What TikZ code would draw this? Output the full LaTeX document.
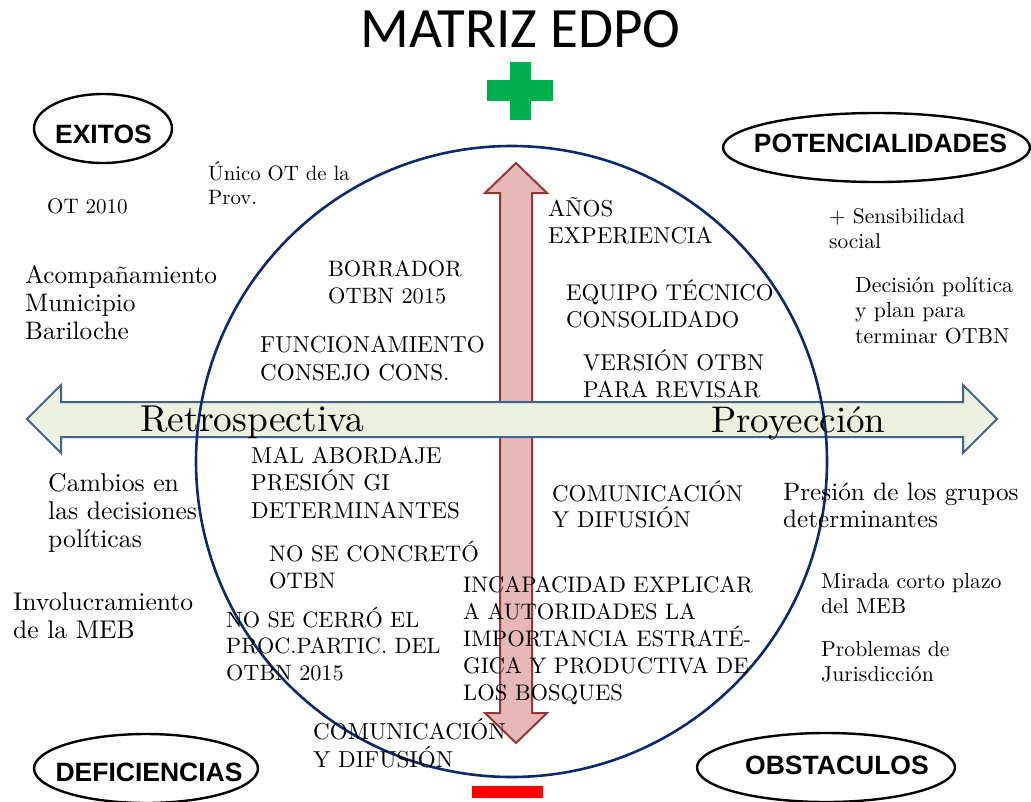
\documentclass[tikz,border=0pt]{standalone}
\usepackage{fontspec}
\setmainfont{lmroman10-regular.otf}
\newfontfamily\titlefont{Carlito}
\newfontfamily\labelfont{Liberation Sans}
\usetikzlibrary{shapes.geometric}
\definecolor{circblue}{HTML}{0B2A6E}
\definecolor{garrowfill}{HTML}{EBF1DE}
\definecolor{garrowdraw}{HTML}{41648F}
\definecolor{rarrowfill}{HTML}{E6B9B8}
\definecolor{rarrowdraw}{HTML}{953735}
\definecolor{plusgreen}{HTML}{00B050}
\definecolor{minusred}{HTML}{FF0000}
\tikzset{
  txt/.style={anchor=base west, align=left, inner sep=0pt, text=black},
  oval/.style={ellipse, draw=black, line width=2.4pt, inner sep=0pt},
  ovaltext/.style={inner sep=0pt, font=\labelfont\bfseries\fontsize{26.5}{30}\selectfont},
}
\begin{document}
\begin{tikzpicture}[x=1pt,y=-1pt]
\useasboundingbox (0,0) rectangle (1031,801);
% vertical red double arrow
\draw[fill=rarrowfill, draw=rarrowdraw, line width=2pt, line join=miter]
  (516,163) -- (547,193) -- (532,193) -- (532,713) -- (547,713) -- (516,743)
  -- (485,713) -- (500,713) -- (500,193) -- (485,193) -- cycle;
% horizontal green double arrow
\draw[fill=garrowfill, draw=garrowdraw, line width=2pt, line join=miter]
  (27,419) -- (61,385) -- (61,402) -- (963,402) -- (963,385) -- (997,419)
  -- (963,453) -- (963,437) -- (61,437) -- (61,453) -- cycle;
% circle
\node[circle, draw=circblue, line width=2.6pt, minimum size=631pt, inner sep=0pt] (circ) at (511.5,461.5) {};
% title, plus and minus
\node[anchor=base, inner sep=0pt, font=\titlefont\fontsize{57}{60}\selectfont] (title) at (520.5,47) {MATRIZ EDPO};
\fill[plusgreen] (510,62) rectangle (531,120);
\fill[plusgreen] (487,80) rectangle (553,101);
\fill[minusred] (472,786) rectangle (543,798);
% ovals
\node[oval, minimum width=138pt, minimum height=69pt] (exitos) at (103,128.5) {};
\node[ovaltext] (exitosl) at (103.5,134) {EXITOS};
\node[oval, minimum width=307pt, minimum height=69pt] (poten) at (876.5,147.5) {};
\node[ovaltext] (potenl) at (880.5,143) {POTENCIALIDADES};
\node[oval, minimum width=224pt, minimum height=69pt] (defic) at (146,768.5) {};
\node[ovaltext] (deficl) at (149,772.5) {DEFICIENCIAS};
\node[oval, minimum width=258pt, minimum height=69pt] (obst) at (826,767.5) {};
\node[ovaltext] (obstl) at (837,765.5) {OBSTACULOS};
% axis labels
\node[txt, font=\fontsize{37.5}{40}\selectfont] (retro) at (140,431) {Retrospectiva};
\node[txt, font=\fontsize{37}{40}\selectfont] (proy) at (711,432) {Proyección};
% texts upper left (anchored at the baseline of the last line)
\node[txt, font=\fontsize{20.8}{24}\selectfont] (unico) at (208,204) {Único OT de la\\Prov.};
\node[txt, font=\fontsize{21}{24}\selectfont] (ot) at (47,213) {OT 2010};
\node[txt, font=\fontsize{25.3}{28}\selectfont] (acomp) at (25,339) {Acompañamiento\\Municipio\\Bariloche};
\node[txt, font=\fontsize{22.3}{27}\selectfont] (borr) at (328,303) {BORRADOR\\OTBN 2015};
\node[txt, font=\fontsize{23.1}{28}\selectfont] (func) at (260,380) {FUNCIONAMIENTO\\CONSEJO CONS.};
% texts upper right
\node[txt, font=\fontsize{23}{26.5}\selectfont] (anos) at (548,243) {AÑOS\\EXPERIENCIA};
\node[txt, font=\fontsize{22.8}{27}\selectfont] (equipo) at (566,327) {EQUIPO TÉCNICO\\CONSOLIDADO};
\node[txt, font=\fontsize{22.9}{27}\selectfont] (version) at (583,397) {VERSIÓN OTBN\\PARA REVISAR};
\node[txt, font=\fontsize{21.4}{25}\selectfont] (sensib) at (829,248) {+ Sensibilidad\\social};
\node[txt, font=\fontsize{21.8}{25.5}\selectfont] (decis) at (855,343) {Decisión política\\y plan para\\terminar OTBN};
% texts lower left
\node[txt, font=\fontsize{23}{27.5}\selectfont] (mal) at (251,518) {MAL ABORDAJE\\PRESIÓN GI\\DETERMINANTES};
\node[txt, font=\fontsize{25.7}{28}\selectfont] (cambios) at (48,547) {Cambios en\\las decisiones\\políticas};
\node[txt, font=\fontsize{22.5}{26.5}\selectfont] (concreto) at (269,588) {NO SE CONCRETÓ\\OTBN};
\node[txt, font=\fontsize{25.6}{28}\selectfont] (invol) at (13,638) {Involucramiento\\de la MEB};
\node[txt, font=\fontsize{22.2}{26.5}\selectfont] (cerro) at (226,680) {NO SE CERRÓ EL\\PROC.PARTIC. DEL\\OTBN 2015};
\node[txt, font=\fontsize{23.1}{28}\selectfont] (comb) at (313,767) {COMUNICACIÓN\\Y DIFUSIÓN};
% texts lower right
\node[txt, font=\fontsize{22.9}{26}\selectfont] (comm) at (552,527) {COMUNICACIÓN\\Y DIFUSIÓN};
\node[txt, font=\fontsize{25.2}{27}\selectfont] (presion) at (783,527) {Presión de los grupos\\determinantes};
\node[txt, font=\fontsize{22.5}{27}\selectfont] (incap) at (463,700) {INCAPACIDAD EXPLICAR\\A AUTORIDADES LA\\IMPORTANCIA ESTRATÉ-\\GICA Y PRODUCTIVA DE\\LOS BOSQUES};
\node[txt, font=\fontsize{21.7}{25}\selectfont] (mirada) at (821,613) {Mirada corto plazo\\del MEB};
\node[txt, font=\fontsize{21.7}{24.5}\selectfont] (probl) at (821,681) {Problemas de\\Jurisdicción};
\end{tikzpicture}
\end{document}
